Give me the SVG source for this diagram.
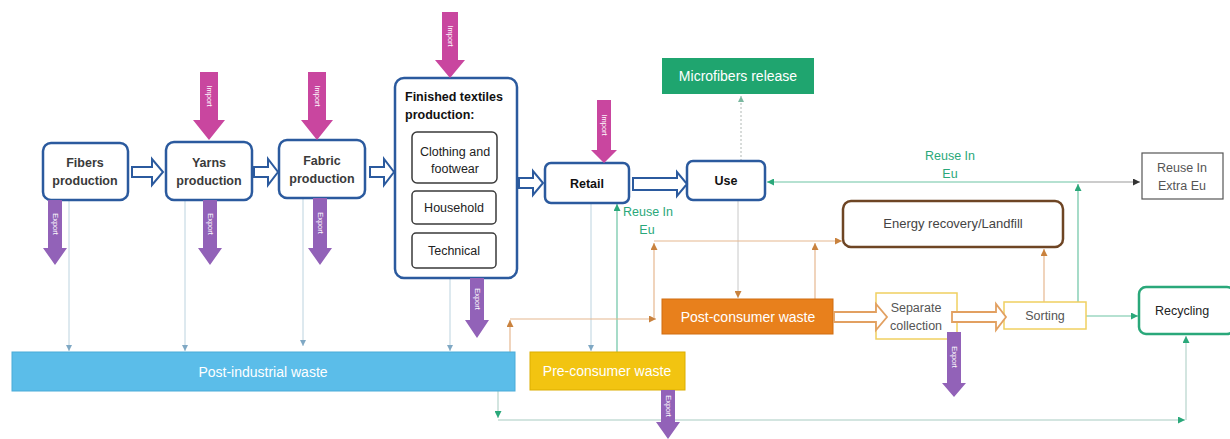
<svg xmlns="http://www.w3.org/2000/svg" width="1230" height="439" viewBox="0 0 1230 439">
<style>
text{font-family:"Liberation Sans",Arial,sans-serif}
.node{fill:#fff;stroke:#2b5a9e;stroke-width:2.5}
.sub{fill:#fff;stroke:#3a3a3a;stroke-width:1.5}
.t{font-size:12.5px;fill:#3a3a3a;font-weight:bold;text-anchor:middle}
.tb{font-size:12.5px;fill:#111;font-weight:bold;text-anchor:middle}
.tr{font-size:12.5px;fill:#222;text-anchor:middle}
.tg{font-size:12.5px;fill:#555;text-anchor:middle}
.tw{font-size:14px;fill:#fff;text-anchor:middle}
.lab{font-size:12.5px;fill:#2aa87a}
.hol{fill:#fff;stroke:#2b5a9e;stroke-width:2}
.holo{fill:#fff;stroke:#e2a061;stroke-width:1.8}
.imp{fill:#c9469f}
.exp{fill:#9262b8}
.at{font-size:7.5px;fill:#fff;text-anchor:middle}
.lb{fill:none;stroke:#bcd3df;stroke-width:1}
.lo{fill:none;stroke:#e6b890;stroke-width:1.2}
.lg{fill:none;stroke:#6cc4a4;stroke-width:1.2}
.lgl{fill:none;stroke:#c4ddd6;stroke-width:1.5}
</style>
<defs>
<marker id="mb" viewBox="0 0 10 10" refX="10" refY="5" markerWidth="6" markerHeight="6" markerUnits="userSpaceOnUse" orient="auto"><path d="M0,0L10,5L0,10z" fill="#7fa8c4"/></marker>
<marker id="mo" viewBox="0 0 10 10" refX="10" refY="5" markerWidth="7" markerHeight="7" markerUnits="userSpaceOnUse" orient="auto"><path d="M0,0L10,5L0,10z" fill="#c9823e"/></marker>
<marker id="mg" viewBox="0 0 10 10" refX="10" refY="5" markerWidth="7" markerHeight="7" markerUnits="userSpaceOnUse" orient="auto"><path d="M0,0L10,5L0,10z" fill="#2aa87a"/></marker>
<marker id="mk" viewBox="0 0 10 10" refX="10" refY="5" markerWidth="7" markerHeight="7" markerUnits="userSpaceOnUse" orient="auto"><path d="M0,0L10,5L0,10z" fill="#333"/></marker>
<marker id="mgr" viewBox="0 0 10 10" refX="10" refY="5" markerWidth="6" markerHeight="6" markerUnits="userSpaceOnUse" orient="auto"><path d="M0,0L10,5L0,10z" fill="#7bb8a0"/></marker>
</defs>

<g id="connectors">
<path class="lb" d="M69,200V351" marker-end="url(#mb)"/>
<path class="lb" d="M185,200V351" marker-end="url(#mb)"/>
<path class="lb" d="M303,198V346" marker-end="url(#mb)"/>
<path class="lb" d="M450,278V351" marker-end="url(#mb)"/>
<path class="lb" d="M591,203V351" marker-end="url(#mb)"/>
<path class="lg" d="M617,352V204" marker-end="url(#mg)"/>
<path d="M741,161V96" fill="none" stroke="#b0b8b4" stroke-width="1" stroke-dasharray="2,2" marker-end="url(#mgr)"/>
<path d="M738,200V298" fill="none" stroke="#c8c8c8" stroke-width="1" marker-end="url(#mo)"/>
<path class="lo" d="M510,352V320" marker-end="url(#mo)"/>
<path class="lo" d="M510,319H656" marker-end="url(#mo)"/>
<path class="lo" d="M654,318V243" marker-end="url(#mo)"/>
<path class="lo" d="M654,241H842" marker-end="url(#mo)"/>
<path class="lo" d="M815,299V243" marker-end="url(#mo)"/>
<path class="lo" d="M1044,302V249" marker-end="url(#mo)"/>
<path class="lg" d="M1078,302V184" marker-end="url(#mg)"/>
<path class="lg" d="M1078,182H767" marker-end="url(#mg)"/>
<path d="M1078,182H1140" fill="none" stroke="#999" stroke-width="1.2" marker-end="url(#mk)"/>
<path class="lg" d="M1086,316H1138" marker-end="url(#mg)"/>
<path class="lgl" d="M498,391V418" marker-end="url(#mg)"/>
<path class="lgl" d="M498,420H1185" marker-end="url(#mg)"/>
<path class="lgl" d="M1186,420V336" marker-end="url(#mg)"/>
<text class="lab" x="950" y="160" text-anchor="middle">Reuse In</text>
<text class="lab" x="950" y="178" text-anchor="middle">Eu</text>
<text class="lab" x="623" y="216">Reuse In</text>
<text class="lab" x="647" y="234" text-anchor="middle">Eu</text>
</g>

<g id="fibers">
<rect class="node" x="43" y="143" width="85" height="57" rx="8"/>
<text class="t" x="85" y="167">Fibers</text>
<text class="t" x="85" y="185">production</text>
</g>
<g id="yarns">
<rect class="node" x="166" y="142" width="86" height="58" rx="8"/>
<text class="t" x="209" y="167">Yarns</text>
<text class="t" x="209" y="185">production</text>
</g>
<g id="fabric">
<rect class="node" x="279" y="140" width="86" height="58" rx="8"/>
<text class="t" x="322" y="165">Fabric</text>
<text class="t" x="322" y="183">production</text>
</g>
<g id="finished">
<rect class="node" x="395" y="78" width="122" height="200" rx="9"/>
<text x="405" y="101" font-size="12.5" font-weight="bold" fill="#111">Finished textiles</text>
<text x="405" y="119" font-size="12.5" font-weight="bold" fill="#111">production:</text>
<rect class="sub" x="412" y="132" width="85" height="51" rx="5"/>
<text class="tr" x="455" y="156">Clothing and</text>
<text class="tr" x="455" y="173">footwear</text>
<rect class="sub" x="412" y="191" width="84" height="33" rx="4"/>
<text class="tr" x="454" y="212">Household</text>
<rect class="sub" x="412" y="233" width="84" height="35" rx="4"/>
<text class="tr" x="454" y="255">Technical</text>
</g>
<g id="retail">
<rect class="node" x="545" y="163" width="84" height="40" rx="6"/>
<text class="tb" x="587" y="188">Retail</text>
</g>
<g id="use">
<rect class="node" x="687" y="161" width="78" height="39" rx="6"/>
<text class="tb" x="726" y="185">Use</text>
</g>
<g id="microfibers">
<rect x="662" y="58" width="152" height="36" fill="#1fa56f"/>
<text class="tw" x="738" y="81">Microfibers release</text>
</g>
<g id="energy">
<rect x="843" y="201" width="220" height="46" rx="8" fill="#fff" stroke="#6e4524" stroke-width="2.5"/>
<text x="953" y="228" font-size="13px" fill="#444" text-anchor="middle">Energy recovery/Landfill</text>
</g>
<g id="reuse-extra">
<rect x="1142" y="153" width="81" height="46" fill="#fff" stroke="#555" stroke-width="1.2"/>
<text class="tg" x="1182" y="172">Reuse In</text>
<text class="tg" x="1182" y="190">Extra Eu</text>
</g>
<g id="post-consumer">
<rect x="662" y="299" width="171" height="35" fill="#e8801c" stroke="#d06c10" stroke-width="1"/>
<text class="tw" x="748" y="322">Post-consumer waste</text>
</g>
<g id="separate">
<rect x="876" y="293" width="81" height="46" fill="#fff" stroke="#f0d060" stroke-width="1.5"/>
<text class="tg" x="916" y="312">Separate</text>
<text class="tg" x="916" y="330">collection</text>
</g>
<g id="sorting">
<rect x="1004" y="302" width="82" height="27" fill="#fff" stroke="#f0d060" stroke-width="1.5"/>
<text class="tg" x="1045" y="320">Sorting</text>
</g>
<g id="recycling">
<rect x="1139" y="287" width="95" height="47" rx="7" fill="#fff" stroke="#2aa87a" stroke-width="2.5"/>
<text class="tr" x="1182" y="315">Recycling</text>
</g>
<g id="post-industrial">
<rect x="12" y="352" width="503" height="39" fill="#5bbde9" stroke="#4aabd8" stroke-width="1"/>
<text class="tw" x="263" y="377">Post-industrial waste</text>
</g>
<g id="pre-consumer">
<rect x="530" y="352" width="155" height="38" fill="#f2c411" stroke="#dcae00" stroke-width="1"/>
<text class="tw" x="607" y="376">Pre-consumer waste</text>
</g>

<g id="flow-arrows">
<path class="hol" d="M132,167H152V159L163,172L152,185V177H132Z"/>
<path class="hol" d="M254,167H268V159L278,172L268,185V177H254Z"/>
<path class="hol" d="M370,167H384V159L394,172L384,185V177H370Z"/>
<path class="hol" d="M519,178H533V171L543,183L533,195V188H519Z"/>
<path class="hol" d="M633,178H677V172L687,184L677,196V190H633Z"/>
<path class="holo" d="M834,312H876V304L887,317L876,330V322H834Z"/>
<path class="holo" d="M952,312H996V304L1006,317L996,330V322H952Z"/>
</g>

<g id="imports">
<path class="imp" d="M200,72H218V120H225L209,140L193,120H200Z"/>
<text class="at" transform="translate(207,96) rotate(90)">Import</text>
<path class="imp" d="M308,72H326V120H333L317,140L301,120H308Z"/>
<text class="at" transform="translate(315,96) rotate(90)">Import</text>
<path class="imp" d="M442,12H458V60H465L450,78L435,60H442Z"/>
<text class="at" transform="translate(448,36) rotate(90)">Import</text>
<path class="imp" d="M597,100H611V150H617L604,163L591,150H597Z"/>
<text class="at" transform="translate(602,125) rotate(90)">Import</text>
</g>
<g id="exports">
<path class="exp" d="M48,200H62V248H67L55,265L43,248H48Z"/>
<text class="at" transform="translate(53,224) rotate(90)">Export</text>
<path class="exp" d="M203,200H217V248H222L210,265L198,248H203Z"/>
<text class="at" transform="translate(208,224) rotate(90)">Export</text>
<path class="exp" d="M313,198H327V248H332L320,265L308,248H313Z"/>
<text class="at" transform="translate(318,223) rotate(90)">Export</text>
<path class="exp" d="M470,278H484V320H489L477,338L465,320H470Z"/>
<text class="at" transform="translate(475,299) rotate(90)">Export</text>
<path class="exp" d="M661,390H675V422H680L668,439L656,422H661Z"/>
<text class="at" transform="translate(666,406) rotate(90)">Export</text>
<path class="exp" d="M947,332H961V383H966L954,397L942,383H947Z"/>
<text class="at" transform="translate(952,357) rotate(90)">Export</text>
</g>
</svg>
